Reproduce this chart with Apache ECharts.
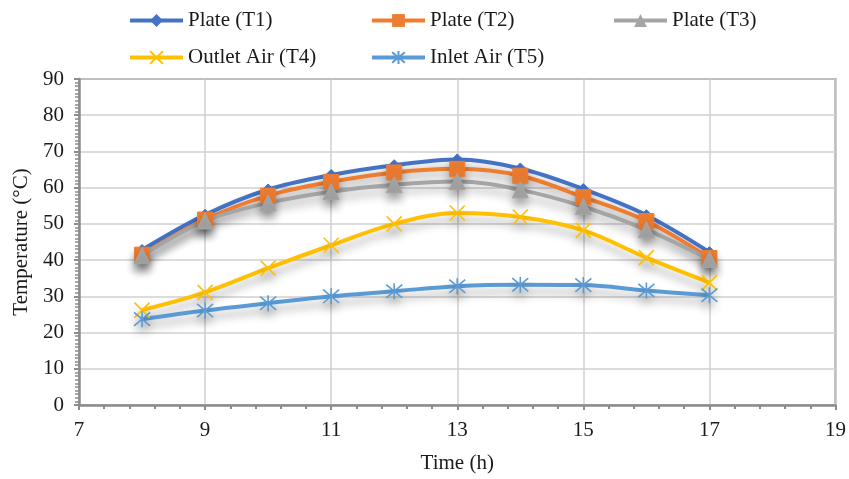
<!DOCTYPE html>
<html>
<head>
<meta charset="utf-8">
<script src="https://cdn.jsdelivr.net/npm/echarts@6/dist/echarts.min.js"></script>
<style>html,body{margin:0;padding:0;background:#fff;}#c{width:849px;height:479px;}</style>
</head>
<body>
<div id="c"></div>
<script>
const hours = [8, 9, 10, 11, 12, 13, 14, 15, 16, 17];
const plateT1 = [42.8, 52.5, 59.5, 63.5, 66.2, 67.8, 65.3, 59.6, 52.4, 42.2];
const plateT2 = [41.5, 51.2, 57.8, 61.6, 64.2, 65.2, 63.3, 57.4, 50.8, 40.6];
const plateT3 = [41.2, 50.8, 55.8, 58.9, 60.8, 61.7, 59.4, 54.8, 48.4, 40.2];
const outletT4 = [26.2, 31.1, 37.8, 44.1, 50.0, 53.0, 51.9, 48.2, 40.7, 33.8];
const inletT5 = [23.7, 26.1, 28.1, 30.0, 31.4, 32.8, 33.2, 33.1, 31.6, 30.3];
const xTicks = [7, 9, 11, 13, 15, 17, 19];
const yTicks = [0, 10, 20, 30, 40, 50, 60, 70, 80, 90];

const FONT = '"Liberation Serif", "Times New Roman", serif';
const FS = 21;
const pair = arr => arr.map((v, i) => [hours[i], v]);
const shadow = {shadowColor: 'rgba(0,0,0,0.3)', shadowBlur: 9, shadowOffsetY: 7};

function series(name, data, color, symbol, size, stroke) {
  return {
    name, type: 'line', data: pair(data), smooth: 0.35,
    symbol, symbolSize: size,
    lineStyle: Object.assign({color, width: 4}, shadow),
    itemStyle: stroke
      ? Object.assign({color: 'rgba(0,0,0,0)', borderColor: color, borderWidth: 1.6}, shadow)
      : Object.assign({color, borderColor: color}, shadow),
    emphasis: {disabled: true}
  };
}

const names = ['Plate (T1)', 'Plate (T2)', 'Plate (T3)', 'Outlet Air (T4)', 'Inlet Air (T5)'];
const legendPos = [[128, 10], [370, 10], [612, 10], [128, 47], [370, 47]];

const chart = echarts.init(document.getElementById('c'), null, {renderer: 'canvas'});
chart.setOption({
  animation: false,
  backgroundColor: '#fff',
  textStyle: {fontFamily: FONT},
  legend: names.map((n, i) => ({
    data: [n], left: legendPos[i][0], top: legendPos[i][1],
    itemWidth: 53, itemHeight: 16, padding: 0,
    lineStyle: {width: 4, shadowBlur: 0, shadowOffsetY: 0},
    itemStyle: {shadowBlur: 0, shadowOffsetY: 0},
    textStyle: {fontFamily: FONT, fontSize: FS, color: '#1a1a1a'}
  })),
  grid: {left: 79, right: 13, top: 79, bottom: 70, show: true, borderColor: '#8c8c8c', borderWidth: 2, backgroundColor: 'transparent'},
  xAxis: {
    type: 'value', min: xTicks[0], max: xTicks[xTicks.length - 1], interval: 2,
    name: 'Time (h)', nameLocation: 'middle', nameGap: 48,
    nameTextStyle: {fontFamily: FONT, fontSize: FS, color: '#1a1a1a'},
    axisLine: {lineStyle: {color: '#8c8c8c', width: 2.5}},
    axisTick: {show: true, length: 5, lineStyle: {color: '#8c8c8c', width: 2}},
    minorTick: {show: true, splitNumber: 5, length: 4, lineStyle: {color: '#8c8c8c', width: 2}},
    axisLabel: {fontFamily: FONT, fontSize: FS, color: '#1a1a1a', margin: 15},
    splitLine: {show: true, lineStyle: {color: '#d0d0d0', width: 1.5}}
  },
  yAxis: {
    type: 'value', min: yTicks[0], max: yTicks[yTicks.length - 1], interval: 10,
    name: 'Temperature (°C)', nameLocation: 'middle', nameGap: 45,
    nameTextStyle: {fontFamily: FONT, fontSize: FS, color: '#1a1a1a'},
    axisLine: {show: true, lineStyle: {color: '#8c8c8c', width: 2.5}},
    axisTick: {show: true, length: 5, lineStyle: {color: '#8c8c8c', width: 2}},
    minorTick: {show: true, splitNumber: 10, length: 4, lineStyle: {color: '#8c8c8c', width: 1.5}},
    axisLabel: {fontFamily: FONT, fontSize: FS, color: '#1a1a1a', margin: 15},
    splitLine: {show: true, lineStyle: {color: '#d0d0d0', width: 1.5}}
  },
  series: [
    series(names[0], plateT1, '#4472C4', 'diamond', 11, false),
    series(names[1], plateT2, '#ED7D31', 'rect', 15, false),
    series(names[2], plateT3, '#A5A5A5', 'triangle', 16, false),
    series(names[3], outletT4, '#FFC000', 'path://M0,0L10,10M10,0L0,10', 15, true),
    series(names[4], inletT5, '#5B9BD5', 'path://M0,0L10,10M10,0L0,10M5,-1L5,11', 16, true)
  ]
});
</script>
</body>
</html>
